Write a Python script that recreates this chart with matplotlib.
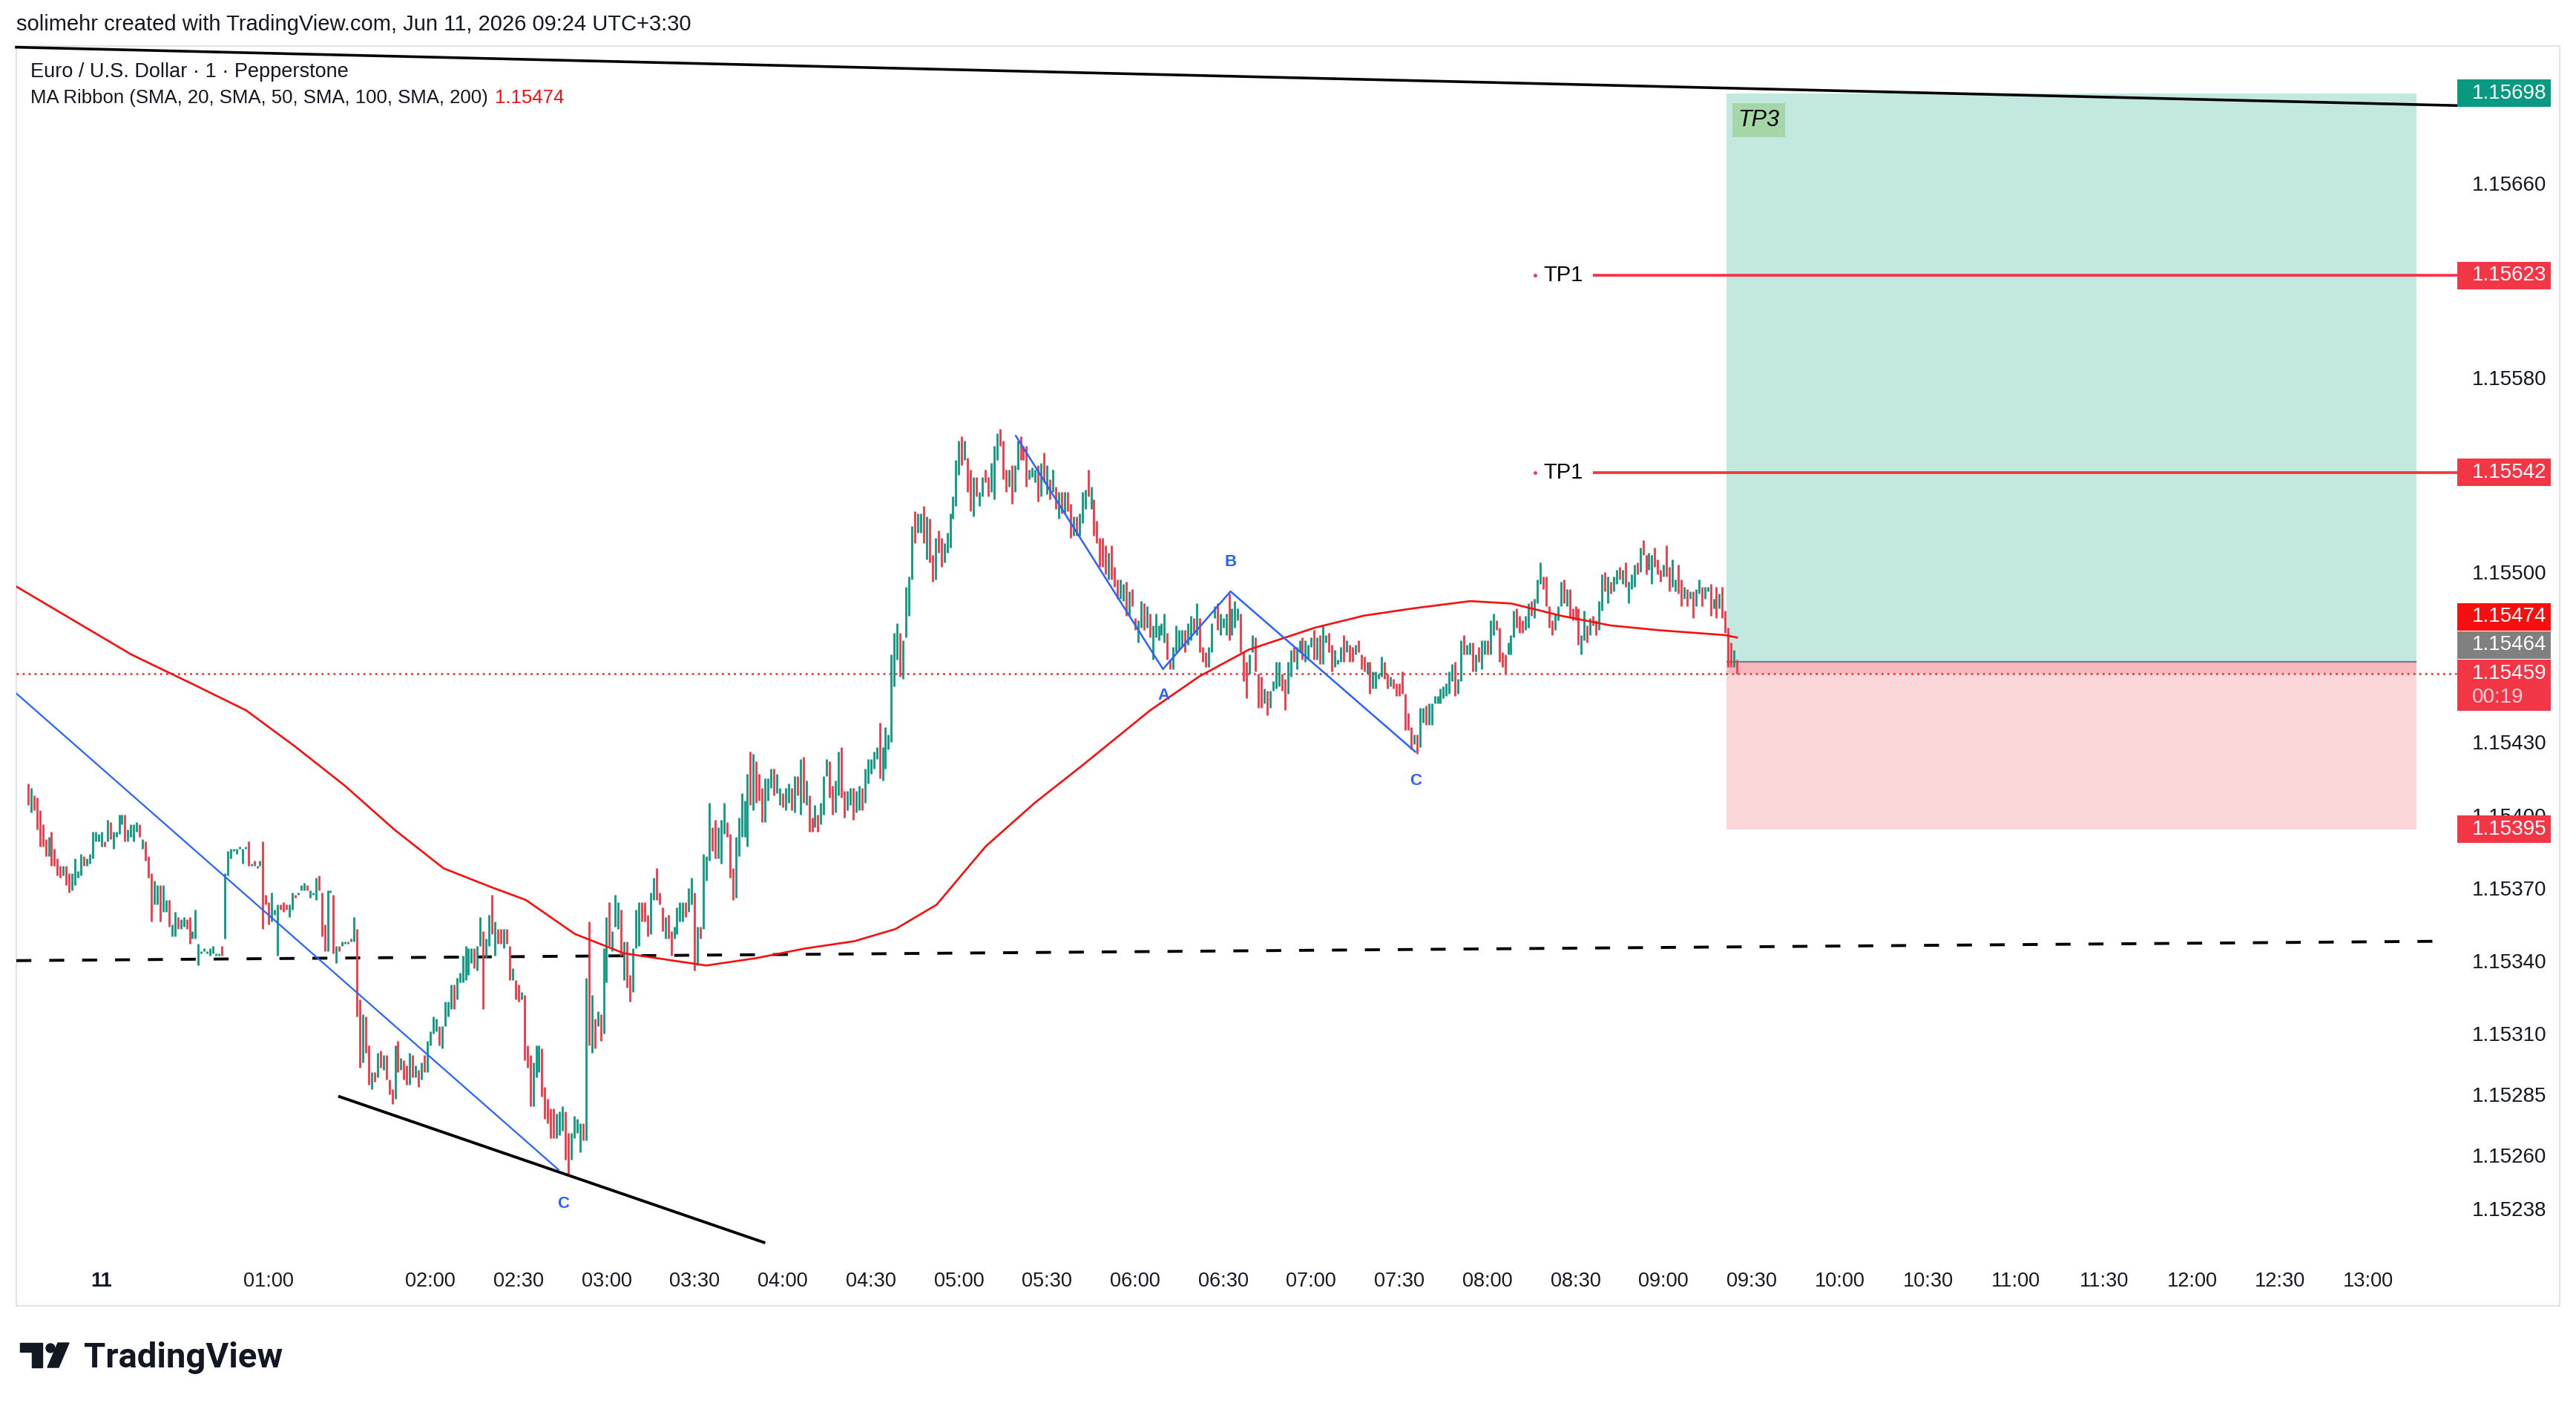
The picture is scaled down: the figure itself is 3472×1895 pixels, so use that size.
"""
EURUSD 1-minute snapshot (TradingView style) with MA, trend lines,
ABC legs and a long-position box.
"""
import numpy as np
import matplotlib
matplotlib.use("Agg")
import matplotlib.pyplot as plt
from matplotlib import transforms
from matplotlib.patches import Rectangle, Polygon, Circle

plt.rcParams['font.family'] = ['Liberation Sans', 'DejaVu Sans']

W, H, DPI = 3472, 1895, 100
BASE = 1.15

# 1-minute bars, prices in 1e-5 above 1.15000 (high, low) and colour (g = up, r = down)
bar_high = [
    414, 412, 409, 408, 403, 397, 391, 392, 394, 387, 383, 380, 380, 380, 377, 377, 383, 378, 385, 384,
    383, 385, 394, 394, 393, 394, 390, 399, 398, 394, 394, 401, 401, 401, 395, 397, 397, 398, 397, 391,
    390, 384, 377, 374, 372, 372, 372, 366, 366, 356, 361, 359, 358, 359, 358, 359, 353, 362, 348, 345,
    346, 345, 346, 347, 344, 344, 347, 377, 386, 387, 387, 387, 388, 387, 388, 390, 381, 382, 380, 382,
    390, 368, 365, 369, 362, 364, 364, 365, 364, 364, 369, 368, 369, 372, 373, 372, 370, 369, 375, 376,
    369, 356, 370, 370, 368, 347, 347, 349, 349, 349, 350, 359, 354, 325, 319, 318, 306, 295, 295, 303,
    304, 302, 302, 292, 288, 306, 308, 301, 300, 298, 303,
    302, 298, 296, 299, 302, 308, 312, 318, 317, 314, 314, 324, 324, 331, 331, 334, 336, 343, 347, 346,
    346, 346, 347, 359, 353, 350, 360, 368, 357, 354, 354, 354, 354, 347, 338, 333, 331, 328, 327, 306,
    302, 299, 306, 306, 305, 289, 284, 280, 280, 278, 279, 281, 279, 270, 270, 277, 276, 274, 274, 334,
    357, 327, 317, 320, 319, 346, 359, 365, 353, 368, 365, 362, 349, 349, 335, 346, 362, 365, 365, 365,
    360, 369, 375, 379, 369, 363, 359, 360, 353, 355, 363, 365, 365, 365, 371, 375, 369, 355, 355, 385,
    384, 406, 396, 399, 396, 399, 406, 398, 393, 379, 392, 400, 410, 407, 418, 427, 426, 423, 418, 412,
    416, 416, 420, 420, 418, 412, 410, 412,
    414, 412, 417, 417, 424, 425, 415, 409, 400, 405, 401, 406, 417, 424, 423, 413, 415, 427, 429, 411,
    411, 412, 412, 411, 413, 412, 420, 424, 424, 427, 429, 439, 429, 437, 434, 467, 476, 480, 476, 473,
    495, 499, 520, 526, 525, 525, 528, 524, 523, 508, 515, 518, 515, 513, 517, 525, 532, 547, 555, 557,
    555, 548, 543, 540, 540, 534, 540, 543, 540, 546, 553, 558, 560, 555, 543, 543, 545, 545, 555, 557,
    553, 553, 543, 544, 543, 545, 546, 550, 545, 539, 543, 536, 534, 534, 534, 534, 529, 524, 524, 525,
    534, 535, 543, 536, 531, 522, 515, 515, 512, 509, 512, 503, 498, 498, 496, 497, 493, 494, 482, 481,
    489, 488, 487, 484, 479, 484, 479, 480,
    484, 476, 465, 470, 479, 477, 477, 477, 480, 483, 482, 488, 482, 470, 468, 470, 480, 487, 488, 484,
    482, 484, 492, 486, 489, 486, 484, 468, 464, 467, 475, 474, 459, 458, 453, 452, 452, 456, 464, 464,
    459, 457, 464, 469, 470, 470, 473, 474, 473, 471, 474, 477, 474, 475, 479, 475, 476, 471, 469, 465,
    470, 475, 473, 471, 470, 471, 473, 467, 466, 464, 464, 460, 460, 459, 466, 464, 459, 458, 457, 455,
    455, 460, 451, 443, 437, 434, 434, 445, 445, 446, 447, 447, 450, 450, 453, 454, 455, 460, 463, 464,
    457, 473, 475, 471, 472, 472, 467, 470, 473, 473, 473, 481, 484, 481, 478, 468, 467, 472, 475, 485,
    486, 483, 481, 483, 488,
    489, 490, 498, 505, 499, 499, 487, 481, 484, 487, 497, 498, 494, 494, 486, 487, 486, 475, 485, 479,
    482, 483, 481, 489, 500, 501, 499, 497, 499, 502, 503, 502, 505, 497, 500, 504, 505, 511, 514, 508,
    509, 508, 511, 506, 502, 504, 512, 503, 506, 498, 504, 498, 495, 494, 493, 493, 494, 498, 495, 495,
    495, 496, 490, 495, 492, 495, 485, 478, 472, 469, 465,
]
bar_low = [
    405, 402, 403, 395, 388, 388, 384, 384, 380, 380, 376, 375, 376, 372, 369, 370, 372, 375, 376, 380,
    380, 381, 383, 390, 390, 388, 388, 390, 391, 387, 392, 393, 397, 390, 390, 392, 390, 394, 392, 387,
    382, 375, 357, 364, 364, 357, 361, 361, 355, 351, 351, 354, 354, 355, 354, 348, 350, 350, 339, 344,
    345, 344, 343, 344, 343, 343, 343, 350, 376, 383, 386, 385, 387, 381, 387, 380, 380, 380, 379, 380,
    354, 364, 356, 357, 360, 343, 362, 361, 362, 359, 362, 367, 368, 370, 370, 370, 367, 368, 366, 370,
    351, 345, 345, 369, 344, 340, 345, 347, 348, 348, 349, 349, 318, 297, 299, 303, 290, 288, 291, 293,
    297, 296, 292, 286, 282, 284, 295, 296, 292, 290, 290,
    293, 293, 289, 292, 295, 295, 306, 311, 312, 306, 305, 314, 318, 321, 321, 325, 332, 332, 333, 335,
    340, 338, 337, 347, 321, 342, 347, 352, 343, 348, 348, 346, 348, 333, 333, 325, 324, 325, 300, 297,
    281, 281, 293, 295, 285, 276, 274, 268, 268, 268, 269, 271, 259, 253, 259, 268, 270, 262, 267, 267,
    306, 303, 305, 314, 308, 311, 332, 347, 345, 355, 354, 343, 333, 330, 324, 328, 346, 347, 357, 357,
    351, 352, 366, 366, 364, 353, 350, 350, 343, 350, 352, 357, 357, 359, 361, 364, 337, 339, 350, 354,
    374, 382, 386, 383, 383, 381, 393, 392, 375, 366, 367, 384, 392, 392, 388, 405, 403, 406, 407, 398,
    398, 407, 412, 409, 410, 405, 404, 403,
    406, 403, 402, 409, 401, 406, 405, 394, 394, 396, 394, 397, 401, 417, 408, 401, 402, 409, 408, 400,
    403, 405, 399, 402, 403, 403, 406, 414, 418, 420, 424, 416, 415, 420, 428, 431, 454, 465, 458, 457,
    474, 483, 498, 513, 517, 517, 513, 506, 505, 497, 498, 509, 503, 505, 509, 511, 523, 528, 541, 545,
    547, 534, 526, 524, 532, 528, 532, 538, 532, 534, 531, 547, 553, 539, 534, 536, 529, 534, 543, 547,
    547, 536, 539, 540, 538, 530, 532, 538, 533, 531, 534, 527, 523, 525, 525, 526, 515, 516, 516, 516,
    521, 527, 532, 527, 516, 513, 503, 503, 500, 498, 498, 495, 490, 490, 489, 483, 483, 487, 477, 472,
    478, 477, 478, 474, 465, 474, 473, 475,
    472, 465, 461, 461, 468, 469, 470, 468, 471, 473, 476, 475, 468, 464, 462, 462, 468, 482, 477, 475,
    478, 475, 473, 475, 478, 481, 468, 456, 449, 459, 468, 460, 445, 445, 447, 442, 445, 452, 453, 454,
    452, 444, 451, 458, 464, 461, 468, 465, 464, 465, 470, 465, 465, 463, 463, 472, 468, 460, 462, 463,
    464, 464, 468, 464, 464, 467, 468, 461, 460, 459, 451, 453, 453, 457, 458, 457, 453, 454, 453, 450,
    450, 451, 436, 436, 428, 430, 426, 429, 439, 438, 438, 438, 447, 447, 447, 449, 450, 451, 456, 450,
    451, 456, 467, 467, 467, 460, 460, 464, 461, 467, 467, 467, 475, 477, 464, 462, 459, 467, 467, 474,
    478, 476, 476, 477, 478,
    483, 482, 488, 496, 494, 487, 478, 475, 477, 481, 487, 488, 487, 482, 481, 481, 471, 467, 473, 472,
    475, 479, 475, 477, 485, 493, 488, 492, 493, 496, 498, 496, 495, 488, 494, 495, 500, 501, 508, 500,
    502, 496, 503, 500, 497, 499, 499, 493, 495, 493, 492, 487, 490, 487, 490, 482, 487, 492, 487, 490,
    493, 483, 486, 482, 486, 482, 476, 462, 462, 462, 459,
]
bar_dir = (
    "rgrrrrrgrr" "rrgrrggggr" "ggggggrgrg" "gggrggggrg" "rrrggrggrg" "grggrrgggg" "ggggggrggg"
    "gggggrgrgg" "rrrgggrrrg" "grgggrgggr" "rrggrgrggr" "ggrrgrrgrg" "rgrrrgrgrr" "g"
    "rgrgrggggr" "ggggrggggg" "grggrggrgr" "rgrrgrrgrr" "rgggrrrrrg" "ggrrggggrg" "rgrgrggrgg"
    "grgrrgggrr" "rggrrrgrrg" "gggrggrgrg" "ggrrgggrrr" "gggggrgrrr" "gggrg" "grg"
    "grgrgrgrrg" "rgggrrggrr" "ggrggrgggg" "grggggggrg" "gggrggrgrr" "grrggggggr" "grrgrggrrg"
    "ggrrrgrggr" "rrgggrgrgr" "grgrgrrgrg" "ggrgrrrrrg" "rrrggrgrrg" "grgrgggg"
    "grrggggrgg" "rgrrrgggrg" "ggrgggrrrg" "grrrgrgggg" "rrggrggrgg" "grgrggrrgg" "grgrrgrrrg"
    "rggggrrgrr" "rrrrrgrggr" "gggggggggr" "ggrggrgrgg" "rggrrrrggg" "rrrgg"
    "rgggrrrrgg" "grgrrrrggr" "grrggrgrgg" "rgrgggrgrr" "ggrrrgrrgg" "rrgrgrggrg" "grgrgrrrrg" "r"
)
last_bar_minute = 565          # minutes after 00:00 (x unit = one bar)

# moving average (MA Ribbon, visible line)
ma_minute = [-21, -4.2, 18.2, 40.5, 57.3, 74.1, 90.9, 107.7, 124.5, 141.3, 152.5, 169.2,
             186.0, 202.8, 214.0, 230.8, 247.6, 264.4, 278.4, 292.4, 309.1, 325.9, 342.7,
             365.1, 381.9, 398.7, 421.1, 437.9, 454.7, 474.2, 488.2, 505.0, 521.8, 538.6,
             561.0, 565]
ma_price = [1.15495, 1.15483, 1.15467, 1.15454, 1.15444, 1.15429, 1.15413, 1.15395, 1.15379,
            1.15371, 1.15366, 1.15352, 1.15344, 1.15341, 1.15339, 1.15342, 1.15346, 1.15349,
            1.15354, 1.15364, 1.15388, 1.15406, 1.15422, 1.15444, 1.15458, 1.15469, 1.15478,
            1.15483, 1.15486, 1.15489, 1.15488, 1.15483, 1.15479, 1.15477, 1.15475, 1.15474]

# drawings
top_line_minute, top_line_price = [-21, 810], [1.15717, 1.15693]
dash_minute, dash_price = [-21, 806], [1.15341, 1.15349]
low_line_minute, low_line_price = [89.1, 233.6], [1.15285, 1.15225]
blue_minute, blue_price = [-21, 163.6], [1.15451, 1.15255]
abc_minute = [319.4, 369.5, 392.5, 455.4]
abc_price = [1.15557, 1.15461, 1.15493, 1.15427]
wave_labels = [("C", 165.2, 1.15241), ("A", 369.7, 1.15450), ("B", 392.4, 1.15505), ("C", 455.6, 1.15415)]

# long position
pos_start, pos_end = 561.4, 796.5
tp_price, entry_price, stop_price = 1.15698, 1.15464, 1.15395
last_price, ma_last = 1.15459, 1.15474
tp1_prices = [1.15623, 1.15542]

price_ticks = [1.15660, 1.15580, 1.15500, 1.15430, 1.15400, 1.15370, 1.15340,
               1.15310, 1.15285, 1.15260, 1.15238]
time_tick_minute = [8, 65] + list(range(120, 781, 30))
time_tick_label = ["11", "01:00"] + ["%02d:%02d" % (m // 60, m % 60) for m in range(120, 781, 30)]

GREEN, RED = "#089981", "#f23645"
MA_RED = "#f70f0f"
TXT = "#131722"

# layout (pixels)
AX_L, AX_R, AX_T, AX_B = 22, 3295, 62, 1705
X0, X1 = -21, 806
Y0, Y1 = 1.152157, 1.157175
ppx = (Y1 - Y0) / (AX_B - AX_T)          # price per pixel
mpx = (X1 - X0) / (AX_R - AX_L)          # minutes per pixel

fig = plt.figure(figsize=(W / DPI, H / DPI), dpi=DPI)
fig.patch.set_facecolor("white")
deco = fig.add_axes([0, 0, 1, 1], zorder=0)
deco.set_xlim(0, W); deco.set_ylim(H, 0); deco.set_axis_off()
ax = fig.add_axes([AX_L / W, 1 - AX_B / H, (AX_R - AX_L) / W, (AX_B - AX_T) / H], zorder=1)
ax.set_xlim(X0, X1); ax.set_ylim(Y0, Y1); ax.set_axis_off()

fy = transforms.blended_transform_factory(fig.transFigure, ax.transData)
xf = transforms.blended_transform_factory(ax.transData, fig.transFigure)
x_edge = X1 + (3312 - AX_R) * mpx   # data x where the price badges begin

# panel frame and header
deco.add_patch(Rectangle((22, 62), 3450 - 22, 1760 - 62, fill=False, ec="#e0e3eb", lw=1.5))
deco.text(22, 33, "solimehr created with TradingView.com, Jun 11, 2026 09:24 UTC+3:30",
          fontsize=21, color=TXT, va="center")
deco.text(41, 97, "Euro / U.S. Dollar \u00b7 1 \u00b7 Pepperstone", fontsize=19.5, color=TXT, va="center")
ma_txt = deco.text(41, 132, "MA Ribbon (SMA, 20, SMA, 50, SMA, 100, SMA, 200)", fontsize=18.5,
                   color=TXT, va="center")
deco.annotate("%.5f" % ma_last, xy=(1, 0.5), xycoords=ma_txt, xytext=(7, 0), textcoords="offset points",
              fontsize=18.5, color=MA_RED, va="center")

# logo
deco.add_patch(Polygon([(27, 1810), (57, 1810), (57, 1843), (43, 1843), (43, 1822), (27, 1822)], color=TXT))
deco.add_patch(Circle((68, 1817), 6, color=TXT))
deco.add_patch(Polygon([(64, 1843), (79, 1843), (93, 1810), (78, 1810)], color=TXT))
deco.text(113, 1843, "TradingView", fontsize=34, fontweight="bold", family=["Roboto", "DejaVu Sans"],
          color=TXT, va="baseline")

# position box
span = pos_end - pos_start
ax.add_patch(Rectangle((pos_start, entry_price), span, tp_price - entry_price, fc="#c3e8e0", ec="none", zorder=1))
ax.add_patch(Rectangle((pos_start, stop_price), span, entry_price - stop_price, fc="#fbd6d9", ec="none", zorder=1))
ax.add_patch(Rectangle((pos_start, last_price), span, entry_price - last_price, fc="#f8b8bd", ec="none", zorder=1.1))
ax.hlines(entry_price, pos_start, pos_end, color="#787b86", lw=1.6, zorder=1.2)
ax.add_patch(Rectangle((563.5, 1.15680), 17.9, 0.00014, fc="#a5d6a7", ec="none", zorder=2))
ax.text(572.4, 1.15687, "TP3", fontsize=22, style="italic", color="black", ha="center", va="center", zorder=3)

# TP1 lines
for p in tp1_prices:
    ax.plot([496.3], [p], marker="o", ms=2.5, color=RED, zorder=3)
    ax.text(499, p, "TP1", fontsize=21, color="black", va="center", zorder=3)
    ax.hlines(p, 516, x_edge, color=RED, lw=2.7, zorder=3, clip_on=False)

# reference lines
ax.plot(dash_minute, dash_price, color="black", lw=2.8, dashes=(5.2, 6.2), zorder=2)
ax.plot([0, 1.005], [last_price, last_price], transform=transforms.blended_transform_factory(ax.transAxes, ax.transData),
        color=RED, lw=2.0, dashes=(1, 1.9), zorder=2, clip_on=False)

# candles
n = min(len(bar_high), len(bar_low), len(bar_dir))
bx = np.arange(n) - (n - 1) + last_bar_minute
hi = BASE + np.array(bar_high[:n]) / 1e5
lo = BASE + np.array(bar_low[:n]) / 1e5
lo = np.minimum(lo, hi - 0.8e-5)
up = np.array([c == "g" for c in bar_dir[:n]])
ax.vlines(bx[up], lo[up], hi[up], colors=GREEN, lw=2.0, zorder=4)
ax.vlines(bx[~up], lo[~up], hi[~up], colors=RED, lw=2.0, zorder=4)

# indicator and drawings
ax.plot(ma_minute, ma_price, color=MA_RED, lw=1.9, zorder=5)
ax.plot(top_line_minute, top_line_price, color="black", lw=2.6, zorder=5, clip_on=False)
ax.plot(low_line_minute, low_line_price, color="black", lw=2.8, zorder=5)
ax.plot(blue_minute, blue_price, color="#2962ff", lw=1.6, zorder=5)
ax.plot(abc_minute, abc_price, color="#2962ff", lw=1.8, zorder=5)
for lab, m, p in wave_labels:
    ax.text(m, p, lab, fontsize=16, fontweight="bold", color="#2962ff", ha="center", va="center", zorder=6)

# price scale
for p in price_ticks:
    ax.text(3332 / W, p, "%.5f" % p, transform=fy, fontsize=20, color=TXT, va="center", zorder=7, clip_on=False)


def badge(price, text, fc, shift=0, top=18.5, bottom=18.5, sub=None):
    c = price + shift * ppx
    ax.add_patch(Rectangle((3312 / W, c - bottom * ppx), 126 / W, (top + bottom) * ppx, transform=fy,
                           fc=fc, ec="none", zorder=8, clip_on=False))
    ax.text(3332 / W, c, text, transform=fy, fontsize=20, color="white", va="center", zorder=9, clip_on=False)
    if sub:
        ax.text(3332 / W, c - 32 * ppx, sub, transform=fy, fontsize=20, color="#fbd3d7", va="center",
                zorder=9, clip_on=False)


badge(tp_price, "%.5f" % tp_price, GREEN)
for p in tp1_prices:
    badge(p, "%.5f" % p, RED)
badge(ma_last, "%.5f" % ma_last, MA_RED, shift=28)
badge(entry_price, "%.5f" % entry_price, "#808080", shift=23)
badge(last_price, "%.5f" % last_price, RED, top=19, bottom=50, sub="00:19")
badge(stop_price, "%.5f" % stop_price, RED)

# time scale
for m, lab in zip(time_tick_minute, time_tick_label):
    ax.text(m, 1 - 1727 / H, lab, transform=xf, fontsize=19.5, color=TXT, ha="center", va="center",
            fontweight="bold" if lab == "11" else "normal", clip_on=False)

fig.savefig("out.png", dpi=DPI, facecolor="white")
